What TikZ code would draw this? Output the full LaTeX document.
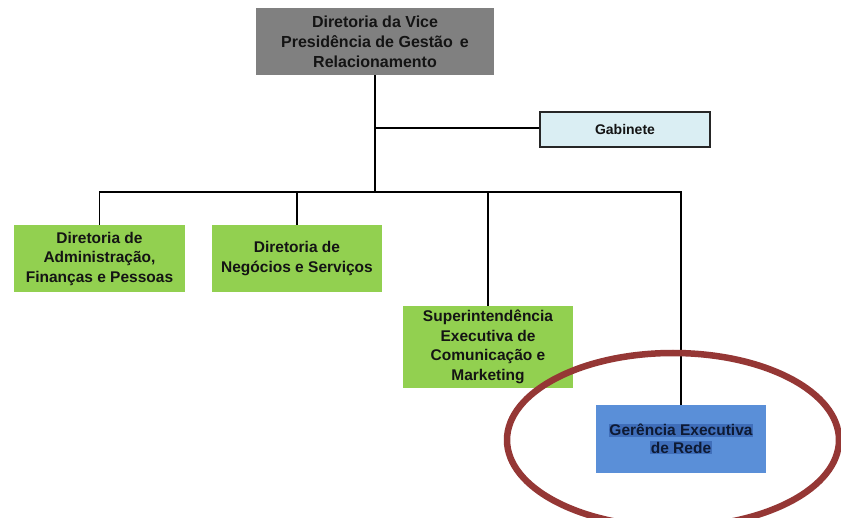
\documentclass[tikz,border=0pt]{standalone}
\usepackage{fontspec}
\setmainfont{Liberation Sans}
\definecolor{topgray}{HTML}{808080}
\definecolor{gabblue}{HTML}{DAEEF3}
\definecolor{leafgreen}{HTML}{92D050}
\definecolor{redeblue}{HTML}{5A8FD8}
\definecolor{hlblue}{HTML}{3F6EBA}
\definecolor{navytext}{HTML}{0E1A33}
\definecolor{ringred}{HTML}{953735}
\definecolor{txt}{HTML}{141414}
\newcommand{\hlline}[1]{{\setlength\fboxsep{0.8pt}\colorbox{hlblue}{#1}}}
\begin{document}
\begin{tikzpicture}[x=1pt,y=-1pt,
  box/.style={rectangle, inner sep=0pt, align=center, text=txt,
    font=\fontsize{15.5}{19.5}\selectfont\bfseries},
  conn/.style={draw=black, line width=1.6pt}]
\useasboundingbox[fill=white] (0,0) rectangle (841,518);
\node[box, fill=topgray, minimum width=238pt, minimum height=67pt,
  font=\fontsize{16}{20}\selectfont\bfseries] (top) at (375,41.5)
  {Diretoria da Vice\\Presidência de Gestão \,e\\Relacionamento};
\node[box, fill=gabblue, draw=black!85, line width=1.2pt, minimum width=170pt, minimum height=35pt,
  font=\fontsize{14}{17}\selectfont\bfseries] (gab) at (625,129.5) {Gabinete};
\node[box, fill=leafgreen, minimum width=171pt, minimum height=67pt] (b1) at (99.5,258.5)
  {Diretoria de\\Administração,\\Finanças e Pessoas};
\node[box, fill=leafgreen, minimum width=170pt, minimum height=67pt] (b2) at (297,258.5)
  {Diretoria de\\Negócios e Serviços};
\node[box, fill=leafgreen, minimum width=170pt, minimum height=82pt] (b3) at (488,347)
  {Superintendência\\Executiva de\\Comunicação e\\Marketing};
\node[box, fill=redeblue, text=navytext, minimum width=170pt, minimum height=68pt,
  font=\fontsize{15.5}{17.5}\selectfont\bfseries] (b5) at (681,439)
  {\hlline{Gerência Executiva}\\\hlline{de Rede}};
\coordinate (j1) at (375,128);
\coordinate (j2) at (375,192);
\draw[conn] (top.south) -- (j2);
\draw[conn] (j1) -- (j1 -| gab.west);
\draw[conn] (b1.north) -- (b1.north |- j2) -- (b5.north |- j2) -- (b5.north);
\draw[conn] (b2.north) -- (b2.north |- j2);
\draw[conn] (b3.north) -- (b3.north |- j2);
\draw[draw=ringred, line width=6.5pt] (673,440) ellipse [x radius=166, y radius=87];
\end{tikzpicture}
\end{document}
